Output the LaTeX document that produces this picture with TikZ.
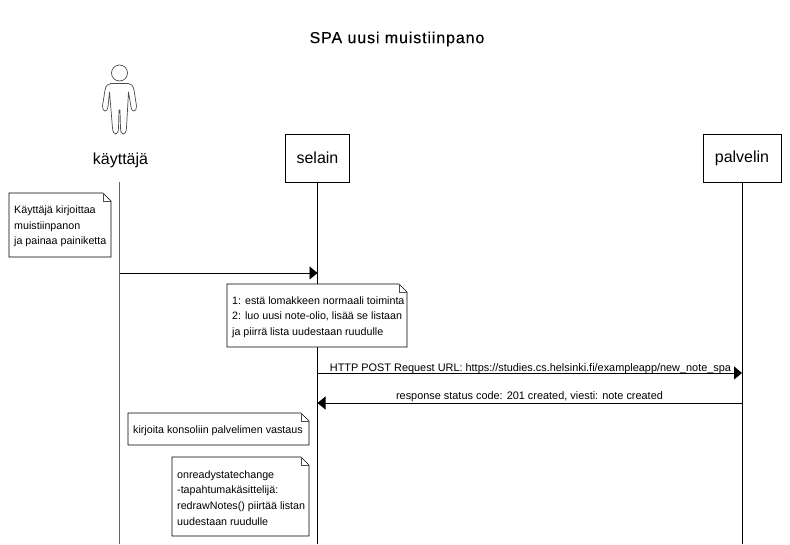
\documentclass[tikz,border=0pt]{standalone}
\usepackage{fontspec}
\setmainfont{Liberation Sans}
\newfontfamily\titlefont[FakeBold=0.12,LetterSpace=5.5]{Liberation Sans}
\usetikzlibrary{arrows.meta}
\tikzset{
  x=1pt,y=-1pt,
  lifebox/.style={draw=black,line width=0.8pt,fill=white,minimum width=#1,minimum height=48pt,inner sep=0pt,font=\fontsize{16}{19}\selectfont},
  lifeline/.style={draw=black,line width=0.8pt},
  msg/.style={draw=black,line width=0.8pt,-{Triangle[length=8pt,width=13pt]}},
  msgtext/.style={font=\fontsize{10.9}{12}\selectfont,inner sep=0pt},
  notetext/.style={font=\fontsize{10.7}{15.7}\selectfont,align=left,inner sep=0pt,anchor=west},
  noteframe/.style={draw=black,line width=0.7pt,fill=white,line join=miter},
  notefold/.style={draw=black!70,line width=0.6pt},
  actorline/.style={draw=black!70,line width=0.7pt,line join=round}
}
% #1 name, #2 left, #3 top, #4 right, #5 bottom, #6 text x, #7 text
\newcommand{\notebox}[7]{
  \path[noteframe] (#2,#3) -- (#4-8,#3) -- (#4,#3+8) -- (#4,#5) -- (#2,#5) -- cycle;
  \path[notefold] (#4-8,#3) -- (#4-8,#3+8) -- (#4,#3+8);
  \node[notetext] (#1) at (#6,{(#3+#5)/2+1.5}) {#7};
}
\begin{document}
\begin{tikzpicture}
\useasboundingbox (0,0) rectangle (790,544);
\fill[white] (0,0) rectangle (790,544);
\node[font=\titlefont\fontsize{16}{19}\selectfont,inner sep=0pt] (title) at (397,39) {SPA uusi muistiinpano};

% actor
\path[actorline] (119.5,73) circle (8);
\path[actorline] (111,83.5) .. controls (108,84) and (106,85) .. (105,90)
  -- (102.5,106) .. controls (102,112) and (107.5,113) .. (108,107)
  -- (109.5,92) -- (112.5,128) .. controls (113,136) and (118.5,136) .. (118.5,128)
  -- (119,110) -- (120,110) -- (120.5,128) .. controls (120.5,136) and (126,136) .. (126.5,128)
  -- (128.5,92) -- (131,107) .. controls (131.5,113) and (137,112) .. (136.5,106)
  -- (134,90) .. controls (133,85) and (131,84) .. (128,83.5) -- cycle;

\node[inner sep=0pt,font=\fontsize{16}{19}\selectfont] (user) at (120.5,160) {käyttäjä};
\node[lifebox=64pt] (browser) at (317.5,158) {selain};
\node[lifebox=78pt] (server) at (742,158) {palvelin};

\coordinate (userTop) at (119.5,182);
\coordinate (userEnd) at (119.5,544);
\coordinate (browserEnd) at (317.5,544);
\coordinate (serverEnd) at (742,544);
\draw[lifeline,black!60] (userTop) -- (userEnd);
\draw[lifeline] (browser.south) -- (browserEnd);
\draw[lifeline] (server.south) -- (serverEnd);

\coordinate (u1) at (119.5,273);
\coordinate (b1) at (317.5,273);
\coordinate (b2) at (317.5,373);
\coordinate (s2) at (742,373);
\coordinate (s3) at (742,403);
\coordinate (b3) at (317.5,403);
\draw[msg] (u1) -- (b1);
\draw[msg] (b2) -- (s2);
\draw[msg] (s3) -- (b3);
\node[msgtext,anchor=south] (m2) at (530.5,373.5) {HTTP POST Request URL: https://studies.cs.helsinki.fi/exampleapp/new\_note\_spa};
\node[msgtext,anchor=south] (m3) at (529.5,402) {response status code: 201 created, viesti: note created};

\notebox{n1}{9}{193}{111}{257}{14}{Käyttäjä kirjoittaa\\muistiinpanon\\ja painaa painiketta}
\notebox{n2}{227}{284}{407}{347}{232}{1: estä lomakkeen normaali toiminta\\2: luo uusi note-olio, lisää se listaan\\ja piirrä lista uudestaan ruudulle}
\notebox{n3}{128}{413}{309}{445}{133}{kirjoita konsoliin palvelimen vastaus}
\notebox{n4}{172}{457}{309}{536}{177}{onreadystatechange\\-tapahtumakäsittelijä:\\redrawNotes() piirtää listan\\uudestaan ruudulle}
\end{tikzpicture}
\end{document}
